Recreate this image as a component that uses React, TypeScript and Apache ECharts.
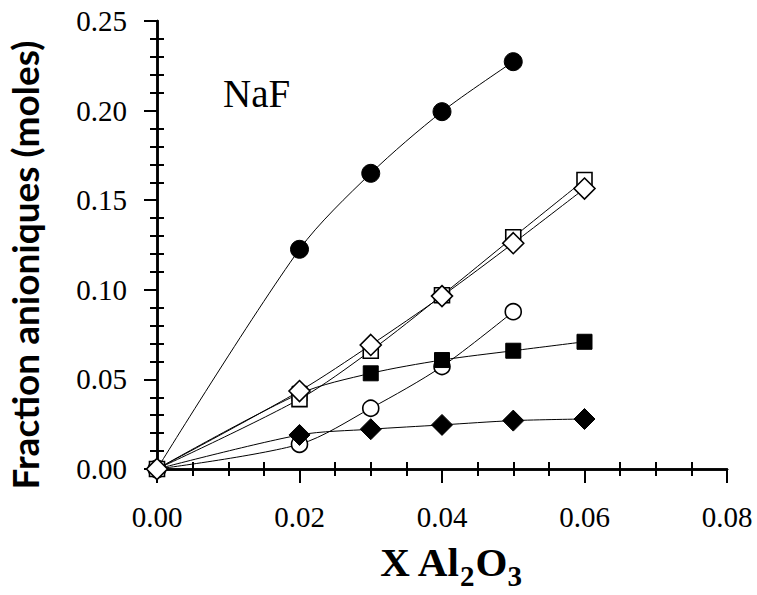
import React, { useEffect, useRef } from "react";
import * as echarts from "echarts";

const xValues = [0, 0.02, 0.03, 0.04, 0.05, 0.06];
const filledCircles = [0, 0.1226, 0.165, 0.1994, 0.2273];
const openSquares = [0, 0.039, 0.066, 0.097, 0.1293, 0.1613];
const openDiamonds = [0, 0.0435, 0.0692, 0.0965, 0.126, 0.1565];
const openCircles = [0, 0.0138, 0.0339, 0.0572, 0.0878];
const filledSquares = [0, 0.042, 0.0534, 0.0608, 0.066, 0.071];
const filledDiamonds = [0, 0.019, 0.0222, 0.0246, 0.027, 0.0279];

const xMin = 0, xMax = 0.08, xStep = 0.02;
const yMin = 0, yMax = 0.25, yStep = 0.05;

const pairs = (vals: number[]) => vals.map((v, i) => [xValues[i], v]);

export default function App() {
  const ref = useRef<HTMLDivElement>(null);
  useEffect(() => {
    if (!ref.current) return;
    const chart = echarts.init(ref.current, null, { renderer: "svg" });
    const serif = "'Liberation Serif', 'Times New Roman', serif";
    const axisLine = { show: true, lineStyle: { color: "#000", width: 2.5 } };
    const baseX = { type: "value", min: xMin, max: xMax, interval: xStep, gridIndex: 0, splitLine: { show: false } };
    const baseY = { type: "value", min: yMin, max: yMax, interval: yStep, gridIndex: 0, splitLine: { show: false } };
    const line = (name: string, vals: number[], symbol: string, size: number, filled: boolean) => ({
      name,
      type: "line",
      data: pairs(vals),
      smooth: 0.3,
      symbol,
      symbolSize: size,
      showAllSymbol: true,
      lineStyle: { color: "#000", width: 1 },
      itemStyle: filled
        ? { color: "#000", borderColor: "#000", borderWidth: 1 }
        : { color: "#fff", borderColor: "#000", borderWidth: 1.6 },
      z: 3,
    });
    chart.setOption({
      animation: false,
      backgroundColor: "#fff",
      grid: { left: 157, right: 30, top: 21, bottom: 126 },
      xAxis: [
        {
          ...baseX,
          position: "bottom",
          axisLine,
          axisTick: { show: true, inside: false, length: 14, lineStyle: { color: "#000", width: 2 } },
          axisLabel: {
            margin: 33,
            fontFamily: serif,
            fontSize: 29,
            color: "#000",
            formatter: (v: number) => v.toFixed(2),
          },
        },
        {
          ...baseX,
          position: "bottom",
          axisLine: { show: false },
          axisTick: { show: false, inside: true },
          minorTick: { show: true, splitNumber: 4, length: 7, lineStyle: { color: "#000", width: 2 } },
          axisLabel: { show: false },
        },
        {
          ...baseX,
          position: "top",
          axisLine,
          axisTick: { show: true, inside: true, length: 10, lineStyle: { color: "#000", width: 2 } },
          minorTick: { show: true, splitNumber: 4, length: 7, lineStyle: { color: "#000", width: 2 } },
          axisLabel: { show: false },
        },
      ],
      yAxis: [
        {
          ...baseY,
          position: "left",
          axisLine,
          axisTick: { show: true, inside: false, length: 13, lineStyle: { color: "#000", width: 2 } },
          axisLabel: {
            margin: 30,
            fontFamily: serif,
            fontSize: 29,
            color: "#000",
            formatter: (v: number) => v.toFixed(2),
          },
        },
        {
          ...baseY,
          position: "left",
          axisLine: { show: false },
          axisTick: { show: false, inside: true },
          minorTick: { show: true, splitNumber: 5, length: 7, lineStyle: { color: "#000", width: 2 } },
          axisLabel: { show: false },
        },
        {
          ...baseY,
          position: "right",
          axisLine,
          axisTick: { show: true, inside: true, length: 10, lineStyle: { color: "#000", width: 2 } },
          minorTick: { show: true, splitNumber: 5, length: 7, lineStyle: { color: "#000", width: 2 } },
          axisLabel: { show: false },
        },
      ],
      graphic: [
        {
          type: "text",
          left: 223,
          top: 74,
          style: { text: "NaF", fontFamily: serif, fontSize: 39, fill: "#000" },
        },
        {
          type: "text",
          x: 24,
          y: 265,
          rotation: Math.PI / 2,
          style: {
            text: "Fraction anioniques (moles)",
            fontFamily: "Lato, 'Open Sans', sans-serif",
            fontWeight: "bold",
            fontSize: 37,
            fill: "#000",
            align: "center",
            verticalAlign: "middle",
          },
        },
        {
          type: "text",
          x: 451,
          y: 566,
          style: {
            text: "{m|X Al}{s|2}{m|O}{s|3}",
            align: "center",
            verticalAlign: "middle",
            fill: "#000",
            rich: {
              m: { fontFamily: serif, fontWeight: "bold", fontSize: 41, fill: "#000", verticalAlign: "bottom", padding: [0, 0, 8, 0] },
              s: { fontFamily: serif, fontWeight: "bold", fontSize: 29, fill: "#000", verticalAlign: "bottom", padding: [0, 1, 0, 0] },
            },
          },
        },
      ],
      series: [
        line("filled circles", filledCircles, "circle", 18, true),
        line("open circles", openCircles, "circle", 16, false),
        line("filled squares", filledSquares, "rect", 15, true),
        line("filled diamonds", filledDiamonds, "diamond", 21, true),
        line("open squares", openSquares, "rect", 15, false),
        line("open diamonds", openDiamonds, "diamond", 21, false),
      ],
    });
    return () => chart.dispose();
  }, []);
  return <div ref={ref} style={{ width: 757, height: 595, position: "absolute", left: 0, top: 0 }} />;
}
